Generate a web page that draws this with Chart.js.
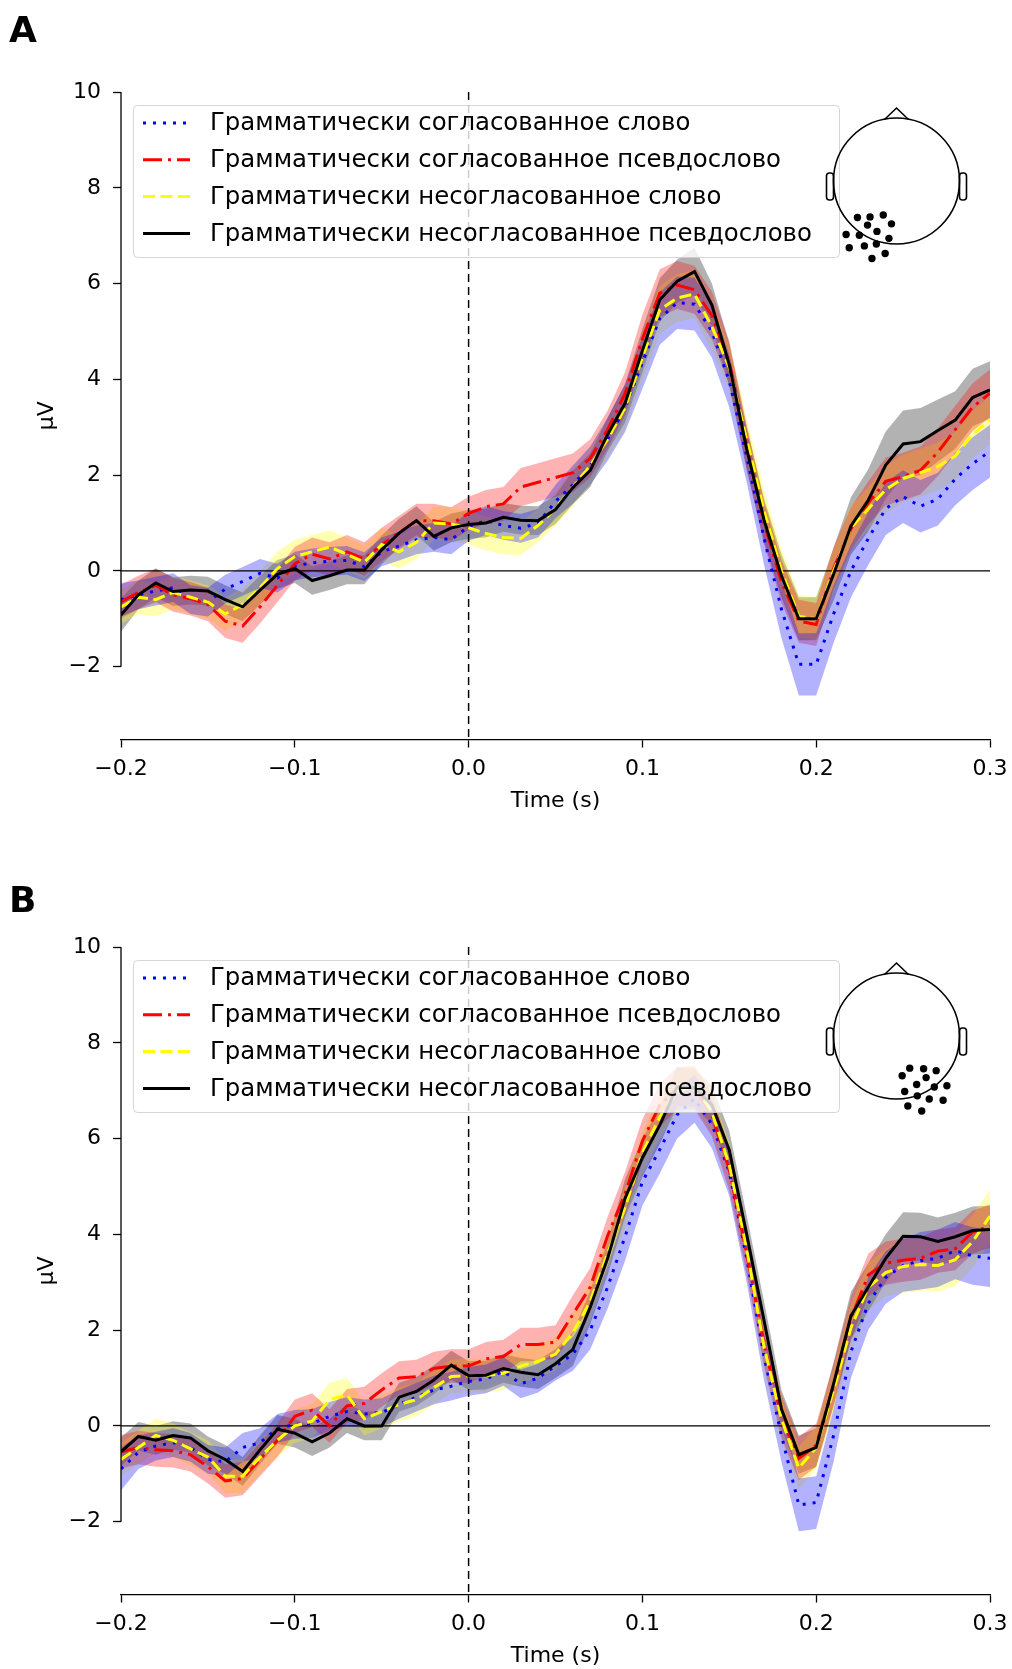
<!DOCTYPE html>
<html>
<head>
<meta charset="utf-8">
<script src="https://cdn.jsdelivr.net/npm/chart.js@4.4.1/dist/chart.umd.min.js"></script>
<style>
  html, body { margin: 0; padding: 0; background: #fff; }
  body { width: 1012px; height: 1669px; position: relative; overflow: hidden; font-family: "DejaVu Sans", sans-serif; }
  .panel { position: absolute; left: 0; width: 1012px; height: 814px; }
  .tag { position: absolute; left: 9px; font: bold 36px/36px "DejaVu Sans", sans-serif; color: #000; }
</style>
</head>
<body>
<div class="panel" style="top:0"><canvas id="chartA"></canvas></div>
<div class="panel" style="top:855px"><canvas id="chartB"></canvas></div>
<div class="tag" style="top:12px">A</div>
<div class="tag" style="top:882px">B</div>
<script>
// time axis (s), one sample every 10 ms
const times = [
  -0.20, -0.19, -0.18, -0.17, -0.16, -0.15, -0.14, -0.13, -0.12, -0.11,
  -0.10, -0.09, -0.08, -0.07, -0.06, -0.05, -0.04, -0.03, -0.02, -0.01,
   0.00,  0.01,  0.02,  0.03,  0.04,  0.05,  0.06,  0.07,  0.08,  0.09,
   0.10,  0.11,  0.12,  0.13,  0.14,  0.15,  0.16,  0.17,  0.18,  0.19,
   0.20,  0.21,  0.22,  0.23,  0.24,  0.25,  0.26,  0.27,  0.28,  0.29, 0.30
];

const seriesNames = [
  'Грамматически согласованное слово',
  'Грамматически согласованное псевдослово',
  'Грамматически несогласованное слово',
  'Грамматически несогласованное псевдослово'
];

const xTickValues = [-0.2, -0.1, 0.0, 0.1, 0.2, 0.3];
const xTickLabels = ['\u22120.2', '\u22120.1', '0.0', '0.1', '0.2', '0.3'];
const yTickValues = [-2, 0, 2, 4, 6, 8, 10];
const yTickLabels = ['\u22122', '0', '2', '4', '6', '8', '10'];

// panel A (µV)
const blueA = [
  -0.6, -0.5, -0.42, -0.35, -0.6, -0.65, -0.38, -0.22, -0.05, -0.15,
  0.1, 0.17, 0.2, 0.22, 0.09, 0.4, 0.52, 0.65, 0.7, 0.65,
  0.93, 1.05, 0.95, 0.89, 1.0, 1.45, 1.8, 2.2, 2.75, 3.4,
  4.35, 5.27, 5.6, 5.57, 5.0, 3.96, 2.4, 0.68, -0.8, -1.95,
  -1.95, -0.9, 0.0, 0.68, 1.3, 1.55, 1.35, 1.5, 1.92, 2.24, 2.5
];
const redA = [
  -0.64, -0.45, -0.3, -0.5, -0.58, -0.7, -1.05, -1.15, -0.75, -0.3,
  0.15, 0.35, 0.25, 0.4, 0.25, 0.55, 0.8, 1.05, 1.05, 0.98,
  1.2, 1.34, 1.4, 1.75, 1.85, 1.95, 2.05, 2.35, 2.95, 3.7,
  4.85, 5.8, 5.97, 5.87, 5.33, 4.35, 2.6, 1.0, -0.22, -1.05,
  -1.12, 0.05, 0.88, 1.42, 1.87, 1.97, 2.1, 2.48, 2.95, 3.42, 3.71
];
const yellowA = [
  -0.75, -0.55, -0.6, -0.45, -0.55, -0.65, -0.9, -0.7, -0.35, 0.05,
  0.3, 0.4, 0.5, 0.35, 0.18, 0.55, 0.4, 0.6, 1.0, 0.98,
  0.9, 0.78, 0.7, 0.68, 0.95, 1.3, 1.75, 2.2, 2.75, 3.4,
  4.46, 5.45, 5.7, 5.78, 5.1, 4.25, 2.75, 1.25, 0.0, -0.95,
  -1.0, 0.0, 0.9, 1.3, 1.7, 1.93, 2.05, 2.18, 2.4, 2.85, 3.15
];
const blackA = [
  -0.92, -0.5, -0.25, -0.43, -0.4, -0.42, -0.6, -0.75, -0.4, -0.07,
  0.05, -0.2, -0.1, 0.02, 0.02, 0.44, 0.79, 1.05, 0.72, 0.9,
  0.97, 1.0, 1.12, 1.06, 1.05, 1.28, 1.74, 2.1, 2.85, 3.5,
  4.6, 5.66, 6.05, 6.25, 5.55, 4.3, 2.55, 1.06, -0.1, -1.0,
  -1.0, -0.07, 0.94, 1.48, 2.21, 2.65, 2.7, 2.93, 3.15, 3.62, 3.78
];
// confidence band half-widths, panel A
const blueA_ci = [
  0.35, 0.3, 0.3, 0.3, 0.3, 0.3, 0.3, 0.3, 0.3, 0.3,
  0.3, 0.3, 0.3, 0.3, 0.3, 0.3, 0.3, 0.3, 0.3, 0.3,
  0.3, 0.3, 0.3, 0.3, 0.3, 0.35, 0.4, 0.4, 0.45, 0.5,
  0.55, 0.55, 0.55, 0.55, 0.55, 0.55, 0.55, 0.55, 0.6, 0.65,
  0.65, 0.6, 0.55, 0.55, 0.55, 0.55, 0.55, 0.55, 0.55, 0.55, 0.55
];
const redA_ci = [
  0.35, 0.35, 0.35, 0.35, 0.35, 0.35, 0.35, 0.35, 0.35, 0.35,
  0.35, 0.35, 0.35, 0.35, 0.35, 0.35, 0.35, 0.35, 0.35, 0.35,
  0.35, 0.35, 0.35, 0.4, 0.4, 0.4, 0.4, 0.4, 0.4, 0.45,
  0.5, 0.5, 0.5, 0.5, 0.5, 0.45, 0.45, 0.45, 0.45, 0.45,
  0.45, 0.45, 0.45, 0.45, 0.5, 0.5, 0.5, 0.5, 0.5, 0.5, 0.5
];
const yellowA_ci = [
  0.35, 0.35, 0.35, 0.35, 0.35, 0.35, 0.35, 0.35, 0.35, 0.35,
  0.35, 0.35, 0.35, 0.35, 0.35, 0.35, 0.35, 0.35, 0.35, 0.35,
  0.35, 0.35, 0.35, 0.35, 0.35, 0.35, 0.4, 0.4, 0.4, 0.45,
  0.5, 0.5, 0.5, 0.5, 0.5, 0.45, 0.45, 0.45, 0.45, 0.45,
  0.45, 0.45, 0.45, 0.45, 0.5, 0.5, 0.5, 0.5, 0.5, 0.5, 0.5
];
const blackA_ci = [
  0.35, 0.3, 0.3, 0.3, 0.3, 0.3, 0.3, 0.3, 0.3, 0.3,
  0.3, 0.3, 0.3, 0.3, 0.3, 0.3, 0.3, 0.3, 0.3, 0.3,
  0.3, 0.3, 0.3, 0.3, 0.3, 0.3, 0.35, 0.35, 0.35, 0.4,
  0.45, 0.45, 0.45, 0.5, 0.45, 0.45, 0.45, 0.45, 0.45, 0.45,
  0.45, 0.55, 0.6, 0.65, 0.7, 0.7, 0.7, 0.65, 0.6, 0.6, 0.6
];

// panel B (µV)
const blueB = [
  -0.9, -0.55, -0.42, -0.35, -0.45, -0.7, -0.75, -0.45, -0.35, -0.05,
  0.03, 0.05, 0.2, 0.3, 0.25, 0.28, 0.45, 0.6, 0.75, 0.83,
  0.93, 0.98, 1.14, 0.88, 1.0, 1.25, 1.5, 2.0, 2.9, 3.95,
  5.1, 5.77, 6.5, 6.83, 6.3, 5.3, 3.5, 1.45, -0.2, -1.65,
  -1.6, -0.2, 1.55, 2.56, 3.1, 3.35, 3.45, 3.5, 3.66, 3.55, 3.5
];
const redB = [
  -0.54, -0.45, -0.5, -0.52, -0.6, -0.85, -1.15, -1.1, -0.7, -0.3,
  0.2, 0.33, 0.0, 0.42, 0.47, 0.75, 1.0, 1.03, 1.2, 1.25,
  1.25, 1.4, 1.45, 1.7, 1.7, 1.75, 2.33, 2.9, 3.97, 4.85,
  5.95, 6.7, 7.05, 7.06, 6.5, 5.35, 3.6, 1.7, 0.2, -0.68,
  -0.4, 0.85, 2.25, 3.15, 3.4, 3.46, 3.5, 3.65, 3.7, 4.05, 4.17
];
const yellowB = [
  -0.7, -0.45, -0.2, -0.3, -0.48, -0.65, -1.05, -1.05, -0.65, -0.3,
  0.0, 0.1, 0.55, 0.65, 0.15, 0.3, 0.45, 0.55, 0.8, 1.03,
  1.05, 1.05, 1.1, 1.25, 1.35, 1.5, 1.95, 2.6, 3.6, 4.56,
  5.7, 6.45, 6.98, 7.1, 6.55, 5.45, 3.7, 1.65, 0.15, -0.88,
  -0.45, 0.75, 2.05, 2.9, 3.2, 3.33, 3.37, 3.35, 3.47, 3.85, 4.38
];
const blackB = [
  -0.54, -0.22, -0.3, -0.2, -0.25, -0.52, -0.7, -0.95, -0.5, -0.07,
  -0.15, -0.33, -0.15, 0.15, 0.0, 0.0, 0.6, 0.72, 0.96, 1.27,
  1.05, 1.06, 1.2, 1.12, 1.07, 1.3, 1.6, 2.48, 3.5, 4.75,
  5.6, 6.28, 7.08, 7.06, 6.7, 5.76, 4.0, 2.2, 0.35, -0.6,
  -0.45, 0.88, 2.3, 2.9, 3.5, 3.96, 3.95, 3.85, 3.95, 4.08, 4.1
];
// confidence band half-widths, panel B
const blueB_ci = [
  0.45, 0.35, 0.3, 0.3, 0.3, 0.3, 0.3, 0.3, 0.3, 0.3,
  0.3, 0.3, 0.3, 0.3, 0.3, 0.3, 0.3, 0.3, 0.3, 0.3,
  0.3, 0.3, 0.3, 0.3, 0.3, 0.3, 0.35, 0.4, 0.45, 0.5,
  0.5, 0.5, 0.5, 0.5, 0.5, 0.5, 0.5, 0.5, 0.55, 0.55,
  0.55, 0.55, 0.55, 0.55, 0.55, 0.55, 0.6, 0.6, 0.6, 0.6, 0.6
];
const redB_ci = [
  0.35, 0.35, 0.35, 0.35, 0.35, 0.35, 0.35, 0.35, 0.35, 0.35,
  0.35, 0.35, 0.35, 0.35, 0.35, 0.35, 0.35, 0.35, 0.35, 0.35,
  0.35, 0.35, 0.35, 0.35, 0.35, 0.35, 0.4, 0.4, 0.4, 0.45,
  0.45, 0.45, 0.45, 0.45, 0.45, 0.45, 0.45, 0.45, 0.45, 0.45,
  0.45, 0.45, 0.45, 0.45, 0.45, 0.45, 0.45, 0.45, 0.45, 0.45, 0.45
];
const yellowB_ci = [
  0.35, 0.35, 0.35, 0.35, 0.35, 0.35, 0.35, 0.35, 0.35, 0.35,
  0.35, 0.35, 0.35, 0.35, 0.35, 0.35, 0.35, 0.35, 0.35, 0.35,
  0.35, 0.35, 0.35, 0.35, 0.35, 0.35, 0.4, 0.4, 0.4, 0.45,
  0.45, 0.45, 0.45, 0.45, 0.45, 0.45, 0.45, 0.45, 0.45, 0.45,
  0.45, 0.45, 0.5, 0.5, 0.5, 0.55, 0.55, 0.55, 0.55, 0.55, 0.55
];
const blackB_ci = [
  0.3, 0.3, 0.3, 0.3, 0.3, 0.3, 0.3, 0.3, 0.3, 0.3,
  0.3, 0.3, 0.3, 0.3, 0.3, 0.3, 0.3, 0.3, 0.3, 0.3,
  0.3, 0.3, 0.3, 0.3, 0.3, 0.3, 0.35, 0.35, 0.35, 0.4,
  0.4, 0.4, 0.4, 0.4, 0.4, 0.4, 0.4, 0.4, 0.4, 0.4,
  0.4, 0.45, 0.5, 0.5, 0.5, 0.5, 0.5, 0.5, 0.5, 0.5, 0.5
];

// sensor positions on the head inset, in head radii from its centre
const sensorsA = [
  [-0.62, 0.58], [-0.42, 0.57], [-0.21, 0.54], [-0.08, 0.68], [-0.46, 0.70], [-0.31, 0.80], [-0.80, 0.85],
  [-0.59, 0.86], [-0.12, 0.91], [-0.75, 1.06], [-0.51, 1.03], [-0.32, 1.00], [-0.18, 1.15], [-0.39, 1.23]
];
const sensorsB = [
  [0.21, 0.51], [0.43, 0.52], [0.63, 0.55], [0.09, 0.63], [0.47, 0.66], [0.32, 0.77], [0.60, 0.81],
  [0.80, 0.79], [0.13, 0.88], [0.33, 0.95], [0.52, 1.00], [0.74, 1.02], [0.18, 1.11], [0.40, 1.19]
];

const Y_MIN = -3.52, Y_MAX = 10;
const FONT = '"DejaVu Sans", sans-serif';

const lineStyles = [
  { color: 'rgb(0,0,255)', band: 'rgba(0,0,255,0.3)', dash: [3, 7] },
  { color: 'rgb(255,0,0)', band: 'rgba(255,0,0,0.3)', dash: [19, 6, 3, 6] },
  { color: 'rgb(255,255,0)', band: 'rgba(255,255,0,0.3)', dash: [12, 5.5] },
  { color: 'rgb(0,0,0)', band: 'rgba(0,0,0,0.3)', dash: [] }
];

function pts(vals, off, sign) {
  return times.map((t, i) => ({ x: t, y: vals[i] + (off ? sign * off[i] : 0) }));
}

function buildDatasets(means, cis) {
  const ds = [];
  // mean lines: black drawn last (lowest order)
  means.forEach((m, k) => {
    ds.push({
      label: seriesNames[k], data: pts(m), borderColor: lineStyles[k].color,
      borderWidth: 3, borderDash: lineStyles[k].dash, borderCapStyle: 'butt',
      pointRadius: 0, fill: false, tension: 0, order: 4 - k
    });
  });
  // reference lines
  ds.push({ data: [{ x: -0.2, y: 0 }, { x: 0.3, y: 0 }], borderColor: '#000', borderWidth: 1.3, pointRadius: 0, fill: false, order: 5 });
  ds.push({ data: [{ x: 0, y: Y_MAX }, { x: 0, y: Y_MIN }], borderColor: '#000', borderWidth: 1.5, borderDash: [8, 5], pointRadius: 0, fill: false, order: 5 });
  // confidence bands
  means.forEach((m, k) => {
    const lowerIndex = ds.length + 1;
    ds.push({
      data: pts(m, cis[k], 1), borderColor: 'rgba(0,0,0,0)', borderWidth: 0, pointRadius: 0,
      fill: { target: lowerIndex, above: lineStyles[k].band, below: lineStyles[k].band }, order: 6
    });
    ds.push({ data: pts(m, cis[k], -1), borderColor: 'rgba(0,0,0,0)', borderWidth: 0, pointRadius: 0, fill: false, order: 6 });
  });
  return ds;
}

function decorPlugin(sensors) {
  return {
    id: 'decor',
    afterDatasetsDraw(chart) {
      const ctx = chart.ctx, y = chart.scales.y, ca = chart.chartArea;
      // bounded left spine, from the top tick to the bottom tick
      ctx.save();
      ctx.strokeStyle = '#000';
      ctx.lineWidth = 1.3;
      ctx.beginPath();
      ctx.moveTo(ca.left, y.getPixelForValue(yTickValues[yTickValues.length - 1]));
      ctx.lineTo(ca.left, y.getPixelForValue(yTickValues[0]));
      ctx.stroke();
      ctx.restore();
    },
    afterDraw(chart) {
      const ctx = chart.ctx, ca = chart.chartArea;
      // legend
      const bx = ca.left + 12, by = ca.top + 13, bw = 706, bh = 152;
      ctx.save();
      ctx.fillStyle = 'rgba(255,255,255,0.8)';
      ctx.strokeStyle = 'rgba(204,204,204,0.8)';
      ctx.lineWidth = 1;
      ctx.beginPath();
      ctx.roundRect(bx + 0.5, by + 0.5, bw, bh, 4);
      ctx.fill();
      ctx.stroke();
      ctx.font = '24.4px ' + FONT;
      ctx.textBaseline = 'middle';
      ctx.fillStyle = '#000';
      seriesNames.forEach((name, k) => {
        const ry = by + 18 + k * 36.8;
        ctx.save();
        ctx.strokeStyle = lineStyles[k].color;
        ctx.lineWidth = 3;
        ctx.setLineDash(lineStyles[k].dash);
        ctx.beginPath();
        ctx.moveTo(bx + 10, ry);
        ctx.lineTo(bx + 57, ry);
        ctx.stroke();
        ctx.restore();
        ctx.fillText(name, bx + 77, ry + 1);
      });
      // head inset with sensor positions
      const cx = ca.left + 775.5, cy = ca.top + 89, r = 63;
      ctx.strokeStyle = '#000';
      ctx.lineWidth = 1.6;
      ctx.setLineDash([]);
      ctx.beginPath();
      ctx.arc(cx, cy, r, 0, Math.PI * 2);
      ctx.stroke();
      ctx.beginPath();
      ctx.moveTo(cx - 12, cy - r + 1.5);
      ctx.lineTo(cx, cy - r - 10);
      ctx.lineTo(cx + 12, cy - r + 1.5);
      ctx.stroke();
      ctx.beginPath();
      ctx.roundRect(cx - r - 7, cy - 8, 7, 27, 3);
      ctx.stroke();
      ctx.beginPath();
      ctx.roundRect(cx + r, cy - 8, 7, 27, 3);
      ctx.stroke();
      ctx.fillStyle = '#000';
      sensors.forEach(([dx, dy]) => {
        ctx.beginPath();
        ctx.arc(cx + dx * r, cy + dy * r, 3.7, 0, Math.PI * 2);
        ctx.fill();
      });
      ctx.restore();
    }
  };
}

function makeChart(id, means, cis, sensors) {
  new Chart(document.getElementById(id), {
    type: 'line',
    data: { datasets: buildDatasets(means, cis) },
    options: {
      responsive: true,
      maintainAspectRatio: false,
      animation: false,
      events: [],
      layout: { padding: { top: 92, right: 22, left: 0, bottom: 0 } },
      plugins: { legend: { display: false }, tooltip: { enabled: false } },
      scales: {
        x: {
          type: 'linear', min: -0.2, max: 0.3,
          afterBuildTicks: s => { s.ticks = xTickValues.map(v => ({ value: v })); },
          afterFit: s => { s.height = 74.5; s.paddingLeft = 0; s.paddingRight = 0; },
          ticks: {
            autoSkip: false, maxRotation: 0, color: '#000', padding: 9,
            font: { family: FONT, size: 22 },
            callback: (v, i) => xTickLabels[i]
          },
          grid: { display: true, drawOnChartArea: false, drawTicks: true, tickLength: 8, tickWidth: 1.3, tickColor: '#000' },
          border: { display: true, color: '#000', width: 1.3 },
          title: { display: true, text: 'Time (s)', color: '#000', font: { family: FONT, size: 22 }, padding: { top: 0, bottom: 0 } }
        },
        y: {
          type: 'linear', min: Y_MIN, max: Y_MAX,
          afterBuildTicks: s => { s.ticks = yTickValues.map(v => ({ value: v })); },
          afterFit: s => { s.width = 121; s.paddingTop = 0; s.paddingBottom = 0; },
          ticks: {
            color: '#000', padding: 12,
            font: { family: FONT, size: 22 },
            callback: (v, i) => yTickLabels[i]
          },
          grid: { display: true, drawOnChartArea: false, drawTicks: true, tickLength: 8, tickWidth: 1.3, tickColor: '#000' },
          border: { display: false },
          title: { display: true, text: 'µV', color: '#000', font: { family: FONT, size: 22 }, padding: { top: 34, bottom: 0 } }
        }
      }
    },
    plugins: [decorPlugin(sensors)]
  });
}

makeChart('chartA', [blueA, redA, yellowA, blackA], [blueA_ci, redA_ci, yellowA_ci, blackA_ci], sensorsA);
makeChart('chartB', [blueB, redB, yellowB, blackB], [blueB_ci, redB_ci, yellowB_ci, blackB_ci], sensorsB);
</script>
</body>
</html>
